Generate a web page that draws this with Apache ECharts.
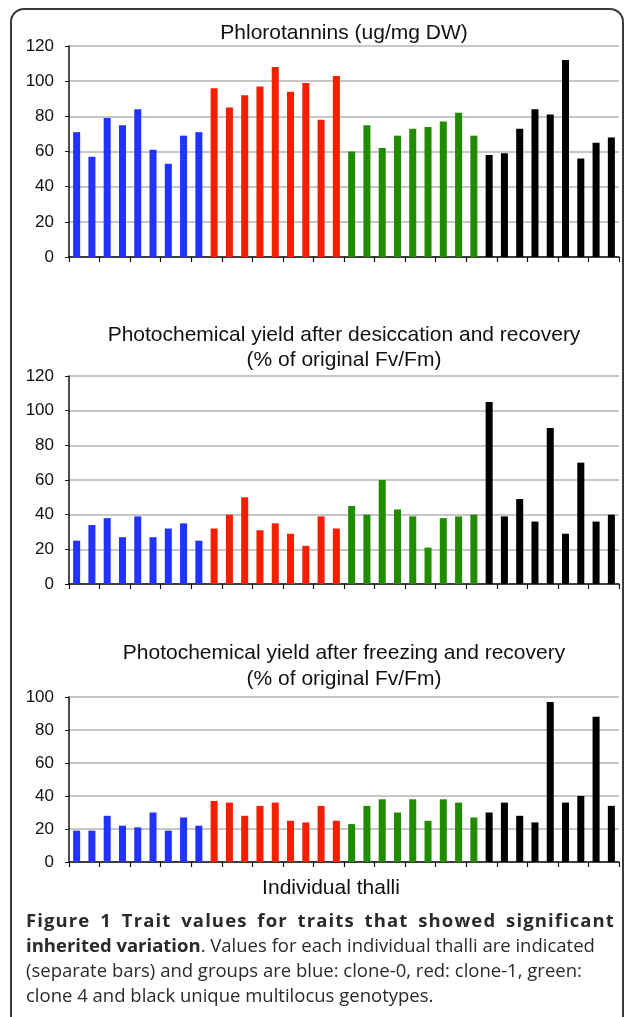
<!DOCTYPE html>
<html>
<head>
<meta charset="utf-8">
<script src="https://cdn.jsdelivr.net/npm/echarts@6/dist/echarts.min.js"></script>
<style>
  html, body { margin: 0; padding: 0; background: #fff; }
  #wrap { position: relative; width: 627px; height: 1017px; overflow: hidden; }
  #frame { position: absolute; left: 10px; top: 8px; width: 614px; height: 1100px;
           border: 2px solid #3a3a3a; border-radius: 14px; box-sizing: border-box; }
  #chart { position: absolute; left: 0; top: 0; width: 627px; height: 1017px; }
  #caption { position: absolute; left: 26px; top: 907px; width: 589px;
             font-family: "Open Sans", sans-serif; font-size: 18.5px; color: #2a2a2a; line-height: 25px; }
  #caption div { white-space: nowrap; }
  #caption .l1 { white-space: normal; text-align: justify; text-align-last: justify;
                 font-weight: bold; letter-spacing: 1.1px; height: 25px; overflow: hidden; }
  b { font-weight: bold; }
</style>
</head>
<body>
<div id="wrap">
  <div id="frame"></div>
  <div id="chart"></div>
  <div id="caption">
    <div class="l1">Figure 1 Trait values for traits that showed significant</div>
    <div><b>inherited variation</b>. Values for each individual thalli are indicated</div>
    <div>(separate bars) and groups are blue: clone-0, red: clone-1, green:</div>
    <div>clone 4 and black unique multilocus genotypes.</div>
  </div>
</div>
<script>
// Individual thalli (36 bars, 9 per group)
var thalli = ['1','2','3','4','5','6','7','8','9','10','11','12','13','14','15','16','17','18',
              '19','20','21','22','23','24','25','26','27','28','29','30','31','32','33','34','35','36'];
var groups = ['clone-0','clone-0','clone-0','clone-0','clone-0','clone-0','clone-0','clone-0','clone-0',
              'clone-1','clone-1','clone-1','clone-1','clone-1','clone-1','clone-1','clone-1','clone-1',
              'clone 4','clone 4','clone 4','clone 4','clone 4','clone 4','clone 4','clone 4','clone 4',
              'unique','unique','unique','unique','unique','unique','unique','unique','unique'];
var groupColors = { 'clone-0': '#2233ff', 'clone-1': '#f81e00', 'clone 4': '#218c00', 'unique': '#000000' };

var phlorotannins = [71, 57, 79, 75, 84, 61, 53, 69, 71,
                     96, 85, 92, 97, 108, 94, 99, 78, 103,
                     60, 75, 62, 69, 73, 74, 77, 82, 69,
                     58, 59, 73, 84, 81, 112, 56, 65, 68];
var desiccation = [25, 34, 38, 27, 39, 27, 32, 35, 25,
                   32, 40, 50, 31, 35, 29, 22, 39, 32,
                   45, 40, 60, 43, 39, 21, 38, 39, 40,
                   105, 39, 49, 36, 90, 29, 70, 36, 40];
var freezing = [19, 19, 28, 22, 21, 30, 19, 27, 22,
                37, 36, 28, 34, 36, 25, 24, 34, 25,
                23, 34, 38, 30, 38, 25, 38, 36, 27,
                30, 36, 28, 24, 97, 36, 40, 88, 34];

var titles = ['Phlorotannins (ug/mg DW)',
              'Photochemical yield after desiccation and recovery\n(% of original Fv/Fm)',
              'Photochemical yield after freezing and recovery\n(% of original Fv/Fm)'];
var yTicksMax = [120, 120, 100];
var xAxisName = 'Individual thalli';

var FONT = '"Liberation Sans", Arial, sans-serif';
var grids = [
  { left: 69, right: 8, top: 46, height: 211 },
  { left: 69, right: 8, top: 376, height: 208 },
  { left: 69, right: 8, top: 697, height: 165 }
];
var titleTops = [20.5, 322, 640.5];
var datasets = [phlorotannins, desiccation, freezing];

var xAxes = [], yAxes = [], series = [], titleOpts = [];
for (var i = 0; i < 3; i++) {
  xAxes.push({
    type: 'category', gridIndex: i, data: thalli,
    axisLine: { lineStyle: { color: '#111', width: 1.5 } },
    axisTick: { show: true, length: 5, lineStyle: { color: '#111', width: 1.2 } },
    axisLabel: { show: false }
  });
  yAxes.push({
    type: 'value', gridIndex: i, min: 0, max: yTicksMax[i], interval: 20,
    axisLine: { show: true, lineStyle: { color: '#111', width: 1.5 } },
    axisTick: { show: true, length: 4, lineStyle: { color: '#111' } },
    axisLabel: { fontFamily: FONT, fontSize: 17, color: '#111', margin: 15 },
    splitLine: { lineStyle: { color: '#b4b4b4', width: 1.5 } }
  });
  series.push({
    type: 'bar', xAxisIndex: i, yAxisIndex: i, data: datasets[i], barWidth: '46%',
    itemStyle: { color: function (p) { return groupColors[groups[p.dataIndex]]; } },
    animation: false
  });
  titleOpts.push({
    text: titles[i], left: 344, top: titleTops[i], textAlign: 'center', padding: 0,
    textStyle: { fontFamily: FONT, fontSize: 21, fontWeight: 'normal', color: '#111', lineHeight: 25.5 }
  });
}
titleOpts.push({
  text: xAxisName, left: 331, top: 876, textAlign: 'center', padding: 0,
  textStyle: { fontFamily: FONT, fontSize: 21, fontWeight: 'normal', color: '#111', lineHeight: 25 }
});

var chart = echarts.init(document.getElementById('chart'));
chart.setOption({
  animation: false,
  title: titleOpts,
  grid: grids,
  xAxis: xAxes,
  yAxis: yAxes,
  series: series
});
</script>
</body>
</html>
